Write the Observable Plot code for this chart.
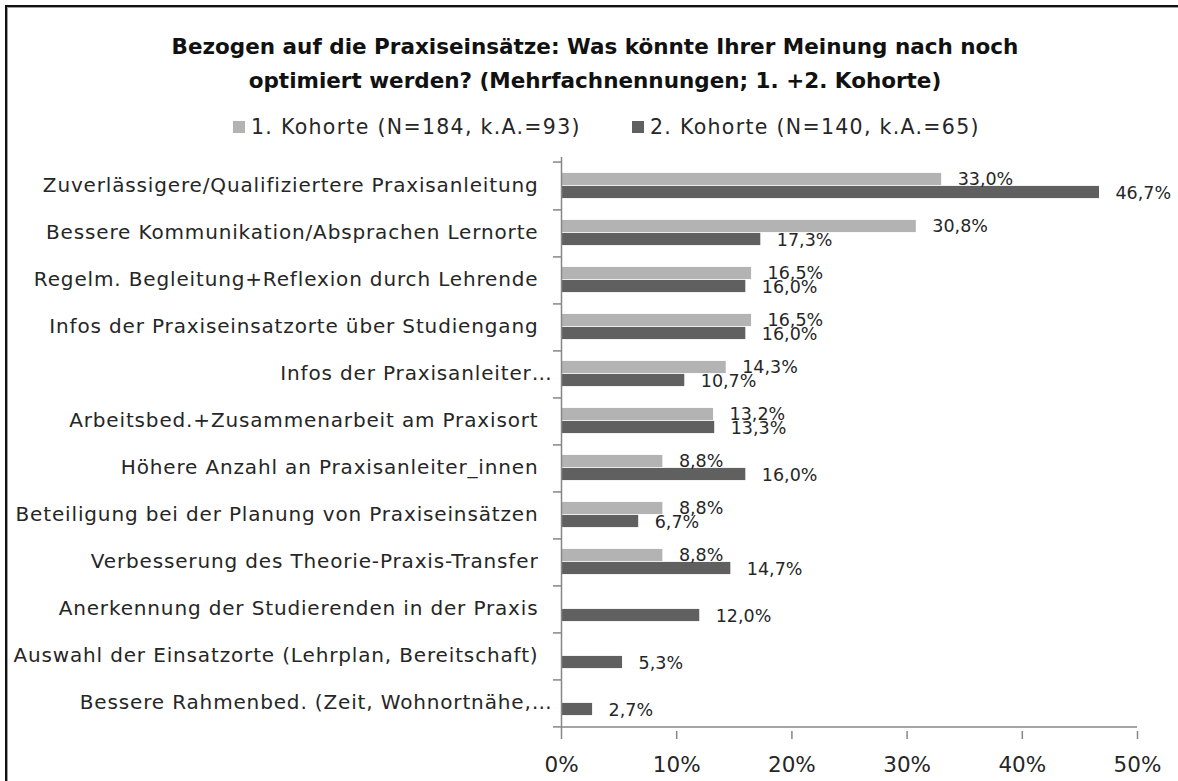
<!DOCTYPE html>
<html>
<head>
<meta charset="utf-8">
<script src="https://cdn.jsdelivr.net/npm/d3@7"></script>
<script src="https://cdn.jsdelivr.net/npm/@observablehq/plot@0.6"></script>
<style>
  html { overflow: hidden; }
  html, body { margin: 0; padding: 0; background: #fff; }
  body { width: 1178px; height: 781px; position: relative;
         font-family: "DejaVu Sans", sans-serif; color: #262626; }
  .fl { position: absolute; background: #111; }
  .fs { position: absolute; background: #a0a0a0; }
  #title { position: absolute; left: 0; top: 30px; width: 1190px; text-align: center;
           font-weight: bold; font-size: 21.5px; line-height: 34px; color: #111; }
  #legend { position: absolute; left: 0; top: 111px; width: 1178px; height: 32px;
            font-size: 20.5px; letter-spacing: 1.3px; }
  .lg { position: absolute; top: 0; white-space: nowrap; line-height: 32px; }
  .sw { position: absolute; top: 10px; width: 12px; height: 12px; }
  #chart { position: absolute; left: 0; top: 150px; }
</style>
</head>
<body>
<div class="fl" style="left:5px;top:5px;width:1173px;height:2px"></div>
<div class="fs" style="left:7px;top:7px;width:1171px;height:1px"></div>
<div class="fl" style="left:5px;top:5px;width:2px;height:776px"></div>
<div class="fs" style="left:7px;top:7px;width:1px;height:774px"></div>
<div id="title">Bezogen auf die Praxiseinsätze: Was könnte Ihrer Meinung nach noch<br>optimiert werden? (Mehrfachnennungen; 1. +2. Kohorte)</div>
<div id="legend"></div>
<div id="chart"></div>
<script>
const categories = [
  "Zuverlässigere/Qualifiziertere Praxisanleitung",
  "Bessere Kommunikation/Absprachen Lernorte",
  "Regelm. Begleitung+Reflexion durch Lehrende",
  "Infos der Praxiseinsatzorte über Studiengang",
  "Infos der Praxisanleiter…",
  "Arbeitsbed.+Zusammenarbeit am Praxisort",
  "Höhere Anzahl an Praxisanleiter_innen",
  "Beteiligung bei der Planung von Praxiseinsätzen",
  "Verbesserung des Theorie-Praxis-Transfer",
  "Anerkennung der Studierenden in der Praxis",
  "Auswahl der Einsatzorte (Lehrplan, Bereitschaft)",
  "Bessere Rahmenbed. (Zeit, Wohnortnähe,…"
];
const kohorte1 = [33.0, 30.8, 16.5, 16.5, 14.3, 13.2, 8.8, 8.8, 8.8, null, null, null];
const kohorte2 = [46.7, 17.3, 16.0, 16.0, 10.7, 13.3, 16.0, 6.7, 14.7, 12.0, 5.3, 2.7];
const seriesNames = ["1. Kohorte (N=184, k.A.=93)", "2. Kohorte (N=140, k.A.=65)"];
const seriesColors = ["#b3b3b3", "#606060"];
const xTicks = [0, 10, 20, 30, 40, 50];

// legend
const legend = document.getElementById("legend");
const swatchLeft = [233, 632];
seriesNames.forEach((name, i) => {
  const sw = document.createElement("div");
  sw.className = "sw";
  sw.style.left = swatchLeft[i] + "px";
  sw.style.background = seriesColors[i];
  legend.appendChild(sw);
  const el = document.createElement("div");
  el.className = "lg";
  el.style.left = (swatchLeft[i] + 18) + "px";
  el.textContent = name;
  legend.appendChild(el);
});

const fmt = v => v.toFixed(1).replace(".", ",") + "%";
const rows1 = categories.map((c, i) => ({cat: c, v: kohorte1[i]})).filter(d => d.v != null);
const rows2 = categories.map((c, i) => ({cat: c, v: kohorte2[i]})).filter(d => d.v != null);
const truncated = categories.filter(c => c.endsWith("…"));
const full = categories.filter(c => !c.endsWith("…"));

const width = 1178, height = 631;
const mt = 7, mb = 50, ml = 561, mr = 41;
const step = (height - mt - mb) / categories.length;
const barH = 13;
const axisColor = "#868686";
const labelFont = 20;

const plot = Plot.plot({
  width, height,
  marginTop: mt, marginBottom: mb, marginLeft: ml, marginRight: mr,
  style: {fontFamily: "'DejaVu Sans', sans-serif", color: "#262626", background: "transparent", overflow: "visible"},
  x: {domain: [0, 50], ticks: xTicks},
  y: {domain: categories, padding: 0},
  marks: [
    Plot.barX(rows1, {y: "cat", x: "v", fill: seriesColors[0], insetTop: step / 2 - barH, insetBottom: step / 2}),
    Plot.barX(rows2, {y: "cat", x: "v", fill: seriesColors[1], insetTop: step / 2, insetBottom: step / 2 - barH}),
    Plot.text(rows1, {y: "cat", x: "v", text: d => fmt(d.v), dx: 16, dy: -barH / 2, textAnchor: "start", fontSize: 17.5, fill: "#262626"}),
    Plot.text(rows2, {y: "cat", x: "v", text: d => fmt(d.v), dx: 16, dy: barH / 2 + 1, textAnchor: "start", fontSize: 17.5, fill: "#262626"}),
    Plot.ruleX([0], {stroke: axisColor, strokeWidth: 1.5}),
    Plot.ruleY(categories, {y: d => d, x1: -0.7, x2: 0, dy: step / 2, stroke: axisColor, strokeWidth: 1.5}),
    Plot.ruleY([categories[0]], {y: d => d, x1: -0.7, x2: 0, dy: -step / 2, stroke: axisColor, strokeWidth: 1.5}),
    Plot.ruleY([categories[categories.length - 1]], {y: d => d, x1: 0, x2: 50, dy: step / 2, stroke: axisColor, strokeWidth: 1.5}),
    Plot.axisY(full, {tickSize: 0, tickPadding: 23, fontSize: labelFont, label: null, lineWidth: Infinity, textOverflow: null}),
    Plot.axisY(truncated, {tickSize: 0, tickPadding: 9, fontSize: labelFont, label: null, lineWidth: Infinity, textOverflow: null}),
    Plot.axisX({ticks: xTicks, tickSize: 8, tickPadding: 17, fontSize: 21.5, label: null, stroke: axisColor, strokeWidth: 1.5, tickFormat: d => d + "%"})
  ]
});
d3.select(plot).selectAll('g[aria-label="y-axis tick label"]').attr("letter-spacing", "0.85px");
document.getElementById("chart").appendChild(plot);
</script>
</body>
</html>
